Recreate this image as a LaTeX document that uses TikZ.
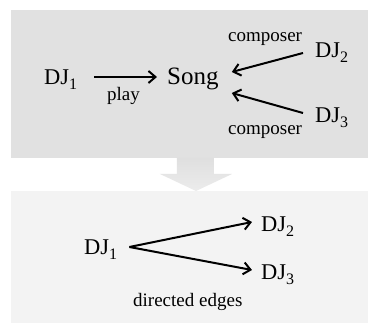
\documentclass[tikz,border=0pt]{standalone}
\usepackage{fontspec}
\setmainfont{Liberation Serif}
\usetikzlibrary{arrows.meta}
\newcommand\mysub[1]{\raisebox{-5pt}{\fontsize{16}{16}\selectfont #1}}
\definecolor{topgray}{HTML}{E1E1E1}
\definecolor{botgray}{HTML}{F3F3F3}
\definecolor{arrtop}{HTML}{DFDFDF}
\definecolor{arrbot}{HTML}{ECECEC}
\begin{document}
\begin{tikzpicture}[x=1pt,y=-1pt,
  big/.style={inner sep=0pt, anchor=base west, font=\fontsize{22.5}{24}\selectfont, text height=16pt, text depth=0pt},
  song/.style={big, font=\fontsize{25}{27}\selectfont},
  lbl/.style={inner sep=0pt, anchor=base west, font=\fontsize{19}{21}\selectfont},
  edge/.style={line width=2pt, -{Straight Barb[length=7pt,width=12pt]}}]
\useasboundingbox (0,0) rectangle (368,323);
\fill[white] (0,0) rectangle (368,323);
\fill[topgray] (11,10) rectangle (368,158);
\fill[botgray] (11,191) rectangle (368,323);
\shade[top color=arrtop, bottom color=arrbot] (177,158) -- (214,158) -- (214,174) -- (232,174) -- (196,191) -- (160,174) -- (177,174) -- cycle;
% top graph
\node[big] (dja) at (44,85) {DJ\mysub{1}};
\node[song] (song) at (167,85) {Song};
\node[big] (djb) at (315,58) {DJ\mysub{2}};
\node[big] (djc) at (315,123) {DJ\mysub{3}};
\node[lbl] (play) at (107,101) {play};
\node[lbl] (compa) at (228,42) {composer};
\node[lbl] (compb) at (228,135) {composer};
\draw[edge] ([shift={(17,0)}]dja.east) -- ([shift={(-10,0)}]song.west);
\draw[edge] ([shift={(-12,3)}]djb.west) -- ([shift={(13,-5)}]song.east);
\draw[edge] ([shift={(-12,-2)}]djc.west) -- ([shift={(13,16)}]song.east);
% bottom graph
\node[big] (djd) at (84,255) {DJ\mysub{1}};
\node[big] (dje) at (261,232) {DJ\mysub{2}};
\node[big] (djf) at (261,280) {DJ\mysub{3}};
\node[lbl] (dir) at (133,307) {directed edges};
\draw[edge] ([shift={(12,0)}]djd.east) -- ([shift={(-9,-2)}]dje.west);
\draw[edge] ([shift={(12,0)}]djd.east) -- ([shift={(-9,-2)}]djf.west);
\end{tikzpicture}
\end{document}
